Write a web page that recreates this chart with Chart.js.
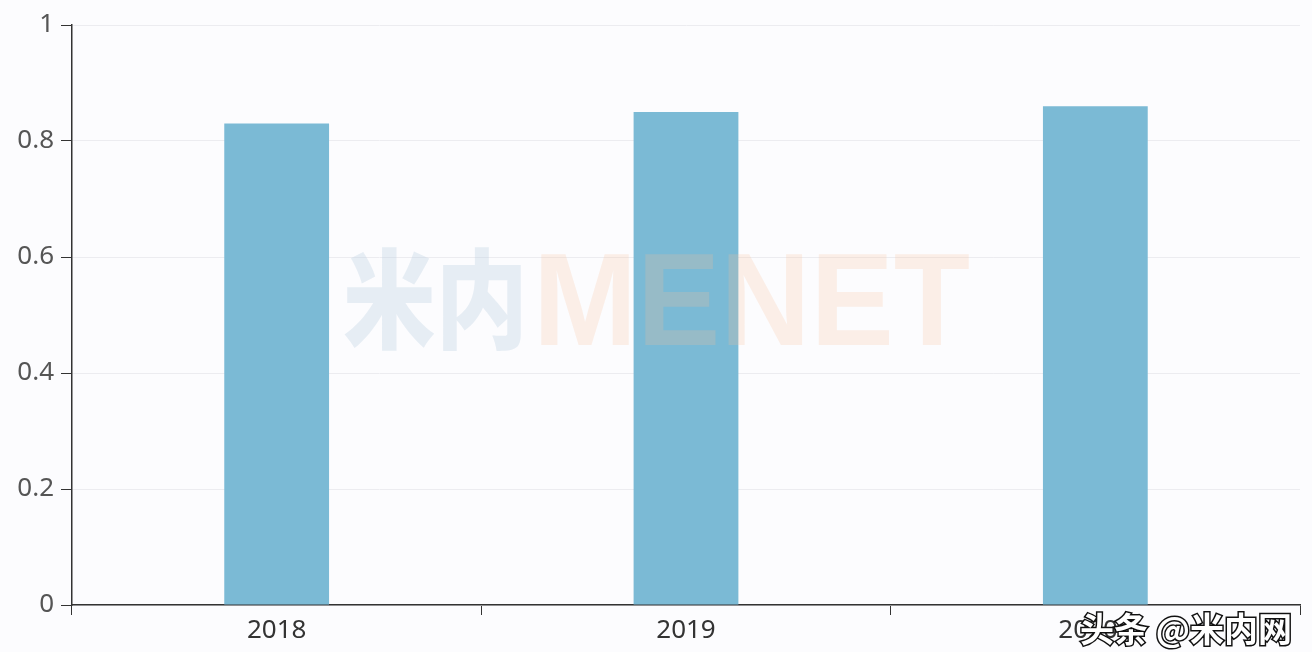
<!DOCTYPE html>
<html><head><meta charset="utf-8">
<script src="https://cdn.jsdelivr.net/npm/chart.js@4/dist/chart.umd.min.js"></script>
<style>html,body{margin:0;padding:0;background:#fcfcfe;}#wrap{width:1312px;height:652px;}</style>
</head><body><div id="wrap"><canvas id="c" width="1312" height="652"></canvas></div>
<script>
const categories = ['2018', '2019', '2020E'];
const values = [0.83, 0.85, 0.86];
const yTicks = [0, 0.2, 0.4, 0.6, 0.8, 1];

const overlay = {
  id: 'overlay',
  afterDatasetsDraw(chart) {
    const ctx = chart.ctx;
    ctx.save();
    ctx.font = '900 108px "Noto Sans CJK SC", sans-serif';
    ctx.textBaseline = 'alphabetic';
    ctx.fillStyle = 'rgba(190,208,225,0.35)';
    ctx.fillText('米内', 343, 340, 185);
    ctx.font = 'bold 132px "Liberation Sans", sans-serif';
    ctx.fillStyle = 'rgba(250,190,150,0.22)';
    ctx.fillText('MENET', 533, 345, 437);
    ctx.restore();
  },
  afterDraw(chart) {
    const ctx = chart.ctx;
    ctx.save();
    ctx.font = 'bold 34px "Noto Sans CJK SC", sans-serif';
    ctx.textBaseline = 'alphabetic';
    ctx.lineWidth = 3;
    ctx.strokeStyle = '#111';
    ctx.strokeText('头条 @米内网', 1080, 642, 215);
    ctx.fillStyle = '#ffffff';
    ctx.fillText('头条 @米内网', 1080, 642, 215);
    ctx.restore();
  }
};

new Chart(document.getElementById('c'), {
  type: 'bar',
  data: {
    labels: categories,
    datasets: [{
      data: values,
      backgroundColor: '#7bbad5',
      borderWidth: 0,
      categoryPercentage: 1,
      barPercentage: 0.256
    }]
  },
  options: {
    responsive: false,
    animation: false,
    layout: { padding: { top: 25, right: 12, left: 0, bottom: 0 } },
    plugins: { legend: { display: false }, tooltip: { enabled: false } },
    scales: {
      x: {
        afterFit(s) { s.height = 47; },
        grid: { drawOnChartArea: false, drawTicks: true, tickLength: 10, tickColor: '#333', offset: true },
        border: { color: '#333', width: 1.5 },
        ticks: { color: '#333', font: { family: '"Noto Sans", sans-serif', size: 26 }, padding: 0 }
      },
      y: {
        min: 0, max: 1,
        afterFit(s) { s.width = 72; },
        afterBuildTicks(s) { s.ticks = yTicks.map(v => ({ value: v })); },
        grid: { color: '#ececf0', tickColor: '#333', tickLength: 11, lineWidth: 1 },
        border: { color: '#333', width: 1.5 },
        ticks: { color: '#555', font: { family: '"Noto Sans", sans-serif', size: 26 }, padding: 7,
          callback: v => String(v) }
      }
    }
  },
  plugins: [overlay]
});
</script>
</body></html>
